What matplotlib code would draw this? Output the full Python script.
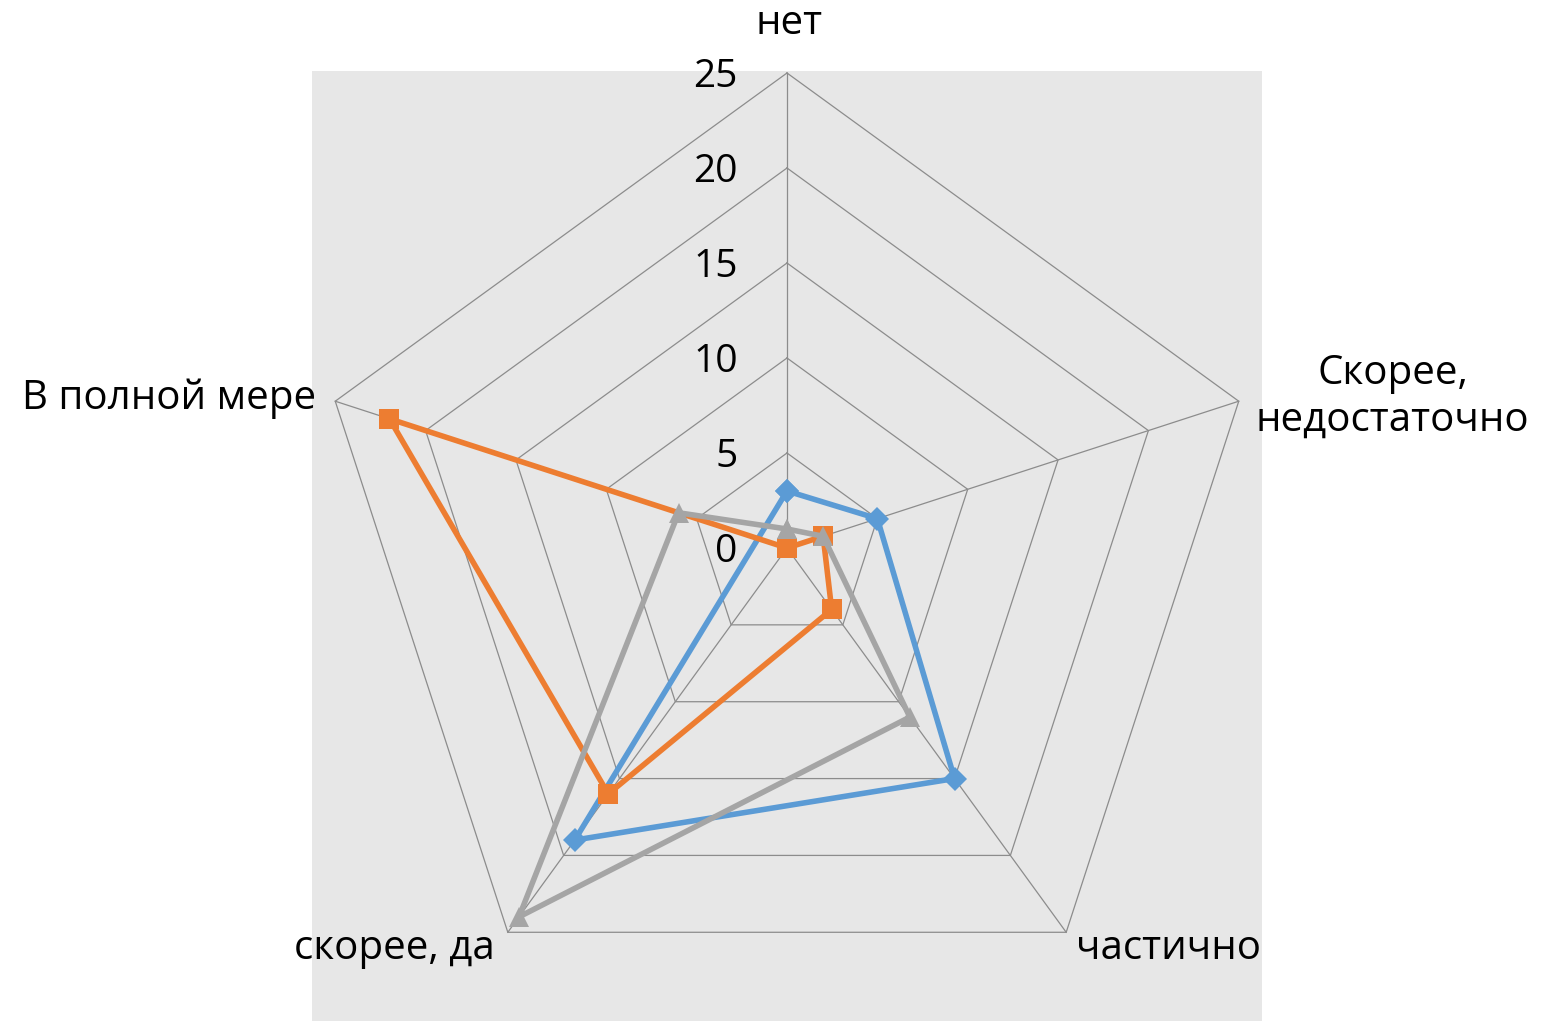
import numpy as np
import matplotlib
matplotlib.use('Agg')
import matplotlib.pyplot as plt

plt.rcParams['font.family'] = ['Open Sans', 'DejaVu Sans']

# Categories (clockwise from top) and the three series
categories = ['нет', 'Скорее,\nнедостаточно', 'частично', 'скорее, да', 'В полной мере']
series_blue = [3, 5, 15, 19, np.nan]
series_orange = [0, 2, 4, 16, 22]
series_gray = [1, 2, 11, 24, 6]
ticks = [0, 5, 10, 15, 20, 25]
rmax = 25

n = len(categories)
angles = np.arange(n) * 2 * np.pi / n


def to_xy(values):
    vals = np.asarray(values, dtype=float)
    x = vals * np.sin(angles)
    y = vals * np.cos(angles)
    return x, y


fig = plt.figure(figsize=(15.41, 10.21), dpi=100)
ax = fig.add_axes([312 / 1541, -2 / 1021, 950 / 1541, 950 / 1021])
ax.set_xlim(-rmax, rmax)
ax.set_ylim(-rmax, rmax)
ax.set_aspect('equal')
ax.axis('off')
ax.add_patch(plt.Rectangle((-rmax, -rmax), 2 * rmax, 2 * rmax + 0.1,
                           facecolor='#e7e7e7', edgecolor='none', zorder=0,
                           clip_on=False))

# pentagon grid and spokes
grid_col = '#8c8c8c'
for t in ticks[1:]:
    gx, gy = to_xy([t] * n)
    ax.plot(np.append(gx, gx[0]), np.append(gy, gy[0]), color=grid_col, lw=0.9,
            zorder=1, clip_on=False)
sx, sy = to_xy([rmax] * n)
for i in range(n):
    ax.plot([0, sx[i]], [0, sy[i]], color=grid_col, lw=0.9, zorder=1, clip_on=False)

# radial tick labels
for t in ticks:
    ax.text(-2.6, t - 0.2, str(t), ha='right', va='center', fontsize=28, color='black',
            zorder=5, clip_on=False)


def draw(values, color, marker, ms):
    vals = np.asarray(values, dtype=float)
    keep = ~np.isnan(vals)
    x, y = to_xy(vals)
    x, y = x[keep], y[keep]
    ax.plot(np.append(x, x[0]), np.append(y, y[0]), color=color, lw=4.0,
            marker=marker, markersize=ms, markeredgewidth=0, zorder=3,
            solid_joinstyle='miter', clip_on=False)


draw(series_blue, '#5b9bd5', 'D', 12)
draw(series_orange, '#ed7d31', 's', 14)
draw(series_gray, '#a5a5a5', '^', 15)

# category labels
lx, ly = to_xy([rmax] * n)
fs = 29
ax.text(0.1, rmax + 2.6, categories[0], ha='center', va='center', fontsize=fs, clip_on=False)
ax.text(lx[1] + 8.1, ly[1] + 0.2, categories[1], ha='center', va='center', fontsize=fs,
        linespacing=1.2, clip_on=False)
ax.text(lx[2] + 0.5, ly[2] - 0.85, categories[2], ha='left', va='center', fontsize=fs, clip_on=False)
ax.text(lx[3] - 0.7, ly[3] - 0.85, categories[3], ha='right', va='center', fontsize=fs, clip_on=False)
ax.text(lx[4] - 1.0, ly[4] + 0.15, categories[4], ha='right', va='center', fontsize=fs, clip_on=False)

fig.savefig('out.png', dpi=100, facecolor='white')
